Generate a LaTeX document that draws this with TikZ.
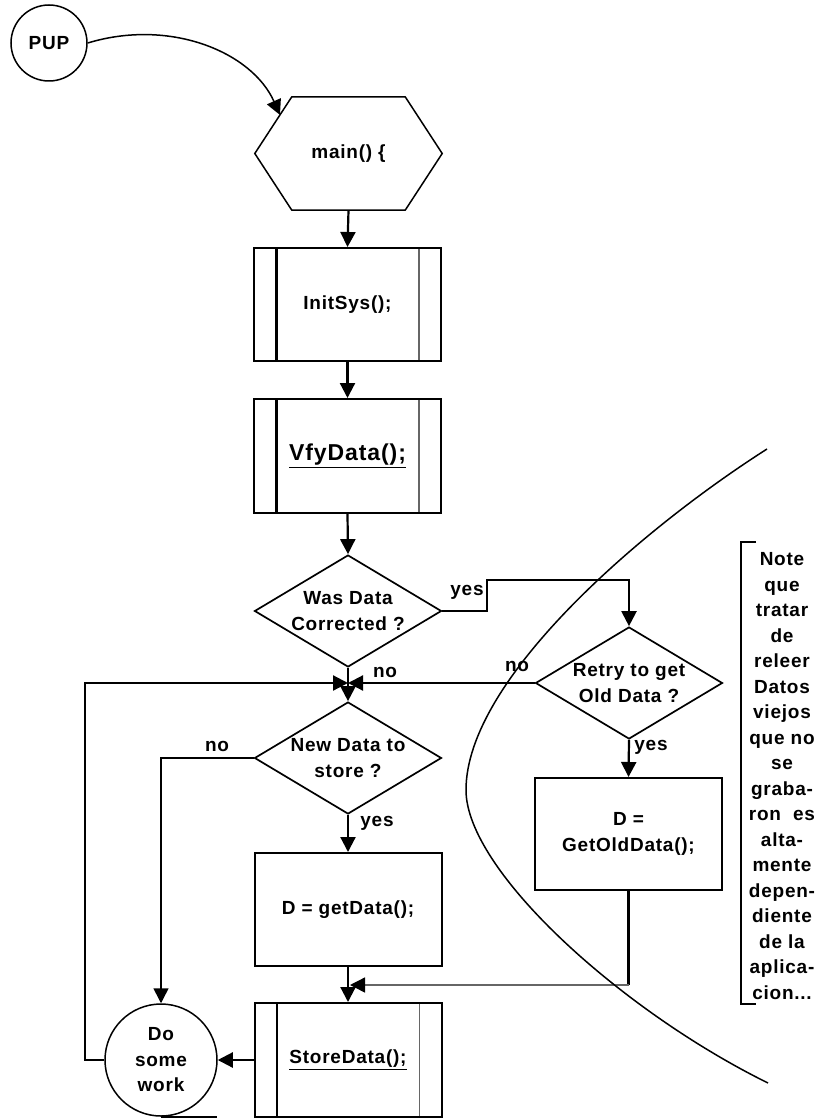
\documentclass[tikz,border=0pt]{standalone}
\usepackage{fontspec}
\setmainfont{Liberation Sans}[LetterSpace=4]
\usetikzlibrary{shapes.geometric,arrows.meta,calc}
\tikzset{
  base/.style={font=\fontsize{19}{25.5}\selectfont\bfseries, align=center},
  ln/.style={line width=2.2pt},
  thin/.style={line width=1.5pt},
  tip/.style={-{Triangle[width=15pt,length=15pt]}},
  arr/.style={ln, tip},
  box/.style={base, draw, line width=2pt, minimum width=187pt, minimum height=113pt, inner sep=0pt},
  subr/.style={box, path picture={
      \draw[line width=2.2pt] ([xshift=22.5pt]path picture bounding box.north west) -- ([xshift=22.5pt]path picture bounding box.south west);
      \draw[line width=1.3pt, black!60] ([xshift=-22pt]path picture bounding box.north east) -- ([xshift=-22pt]path picture bounding box.south east);}},
  dec/.style={base, draw, diamond, aspect=1.66, minimum width=187pt, minimum height=112pt, inner sep=0pt, line width=1.7pt},
  term/.style={base, draw, circle, line width=1.5pt, inner sep=0pt},
  lbl/.style={base, inner sep=0pt},
}
\begin{document}
\begin{tikzpicture}[x=1pt,y=-1pt]
\useasboundingbox (0,0) rectangle (814,1118);

% nodes
\node[term, minimum size=76pt] (pup) at (49,43) {PUP};
\node[base, minimum width=187pt, minimum height=113pt, inner sep=0pt] (main) at (348.5,153.5) {main() \{};
\draw[thin] ([xshift=37pt]main.north west) -- ([xshift=-37pt]main.north east) -- (main.east)
   -- ([xshift=-37pt]main.south east) -- ([xshift=37pt]main.south west) -- (main.west) -- cycle;
\coordinate (hx) at ($(main.west)!0.68!([xshift=37pt]main.north west)$);

\node[subr] (init) at (347.5,304.5) {InitSys();};
\node[subr, minimum height=114pt, font=\fontsize{23}{26}\selectfont\bfseries] (vfy) at (347.5,456) {\underline{VfyData();}};
\node[dec] (was) at (348,611) {Was Data\\Corrected ?};
\node[dec] (retry) at (629,683) {Retry to get\\Old Data ?};
\node[dec] (newd) at (348,758) {New Data to\\store ?};
\node[box] (getd) at (348,909.5) {D = getData();};
\node[box, minimum height=112pt] (old) at (628.5,834) {D =\\GetOldData();};
\node[subr, minimum height=114pt] (store) at (348,1060) {\underline{StoreData();}};
\node[term, minimum size=112pt] (work) at (161,1060) {Do\\some\\work};

\coordinate (jn) at (348,683);
\coordinate (jn2) at (350,985);

% connectors
\draw[thin, tip] (pup.east) .. controls (170,18) and (252,52) .. (hx);
\draw[arr] (main.south) -- (init.north);
\draw[arr] (init.south) -- (vfy.north);
\draw[arr] (vfy.south) -- (was.north);
\draw[arr] (was.east) -- ++(45,0) |- ([yshift=46pt]retry.north) -- (retry.north);
\draw[ln] (was.south) -- (jn);
\draw[arr] (retry.west) -- (jn);
\draw[arr] (work.west) -- ++(-19,0) |- (jn);
\draw[arr] (jn) -- (newd.north);
\draw[line width=1.5pt, tip] (newd.west) -| (work.north);
\draw[arr] (newd.south) -- (getd.north);
\draw[arr] (retry.south) -- (old.north);
\draw[arr] (getd.south) -- (store.north);
\draw[ln] (old.south) -- (old.south |- jn2) coordinate (oc);
\draw[line width=1.4pt, black!60, -{Triangle[width=15pt,length=15pt,black]}] (oc) -- (jn2);
\draw[arr] (store.west) -- (work.east);

% labels
\node[lbl] (l1) at (467,592) {yes};
\node[lbl] (l2) at (385,672) {no};
\node[lbl] (l3) at (517,666) {no};
\node[lbl] (l4) at (651,747) {yes};
\node[lbl] (l5) at (217,746) {no};
\node[lbl] (l6) at (377,823) {yes};

% boundary curve
\draw[thin] (767,449) .. controls (640,530) and (466,680) .. (466,790)
   .. controls (466,870) and (620,1010) .. (768,1083);

% note with bracket
\draw[thin] (756,542) -- (741,542) -- (741,1004) -- (756,1004);
\node[base, inner sep=0pt] (note) at (782,776) {Note\\que\\tratar\\de\\releer\\Datos\\viejos\\que no\\se\\graba-\\ron\ \ es\\alta-\\mente\\depen-\\diente\\de la\\aplica-\\cion...};

% cut-off line at bottom
\draw[line width=1.4pt] (161,1117) -- (217,1117);
\end{tikzpicture}
\end{document}
